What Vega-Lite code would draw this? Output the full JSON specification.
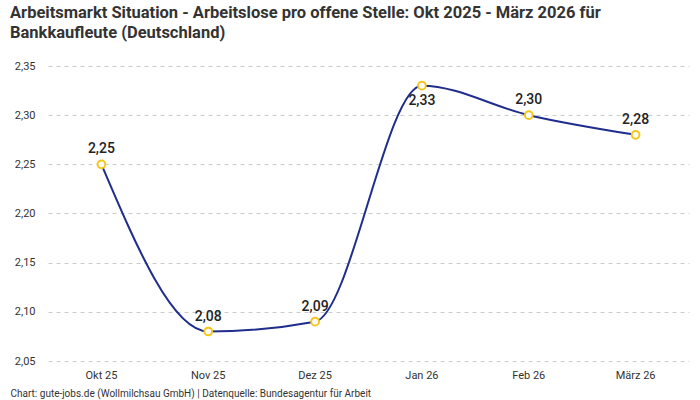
{
  "$schema": "https://vega.github.io/schema/vega-lite/v6.json",
  "autosize": {"type": "none"},
  "padding": {"left": 48, "top": 66, "right": 11, "bottom": 39},
  "width": 641,
  "height": 295,
  "title": {
    "text": ["Arbeitsmarkt Situation - Arbeitslose pro offene Stelle: Okt 2025 - März 2026 für", "Bankkaufleute (Deutschland)"],
    "anchor": "start",
    "frame": "group",
    "dx": -38,
    "offset": 19,
    "font": "Roboto",
    "fontSize": 16.5,
    "fontWeight": "bold",
    "color": "#333333",
    "lineHeight": 20
  },
  "data": {
    "values": [
      {"monat": "Okt 25", "wert": 2.25},
      {"monat": "Nov 25", "wert": 2.08},
      {"monat": "Dez 25", "wert": 2.09},
      {"monat": "Jan 26", "wert": 2.33},
      {"monat": "Feb 26", "wert": 2.30},
      {"monat": "März 26", "wert": 2.28}
    ]
  },
  "transform": [
    {"calculate": "replace(format(datum.wert, '.2f'), '.', ',')", "as": "label"}
  ],
  "encoding": {
    "x": {
      "field": "monat",
      "type": "nominal",
      "sort": null,
      "scale": {"type": "band", "paddingInner": 0, "paddingOuter": 0},
      "axis": {
        "labelAngle": 0,
        "ticks": false,
        "domain": false,
        "labelPadding": 8,
        "labelFont": "Roboto",
        "labelFontSize": 11,
        "labelColor": "#333333",
        "title": "Chart: gute-jobs.de (Wollmilchsau GmbH) | Datenquelle: Bundesagentur für Arbeit",
        "titleFont": "Roboto",
        "titleFontSize": 10,
        "titleFontWeight": "normal",
        "titleColor": "#333333",
        "titleAnchor": "start",
        "titleAlign": "left",
        "titleBaseline": "middle",
        "titleX": -38,
        "titleY": 32
      }
    },
    "y": {
      "field": "wert",
      "type": "quantitative",
      "scale": {"domain": [2.05, 2.35], "nice": false, "zero": false},
      "axis": {
        "values": [2.05, 2.1, 2.15, 2.2, 2.25, 2.3, 2.35],
        "labelExpr": "replace(format(datum.value, '.2f'), '.', ',')",
        "ticks": false,
        "domain": false,
        "labelPadding": 13,
        "labelFont": "Roboto",
        "labelFontSize": 11,
        "labelColor": "#333333",
        "gridColor": "#cccccc",
        "gridDash": [4, 4],
        "title": null
      }
    }
  },
  "layer": [
    {
      "mark": {"type": "line", "interpolate": "monotone", "color": "#1f2d8c", "strokeWidth": 2}
    },
    {
      "mark": {"type": "point", "shape": "circle", "filled": true, "fill": "#ffffff", "stroke": "#f5c518", "strokeWidth": 2, "size": 60, "opacity": 1}
    },
    {
      "transform": [{"filter": "datum.monat !== 'Jan 26'"}],
      "mark": {"type": "text", "dy": -15, "font": "Roboto", "fontSize": 14, "fontWeight": 500, "color": "#222222"},
      "encoding": {"text": {"field": "label"}}
    },
    {
      "transform": [{"filter": "datum.monat === 'Jan 26'"}],
      "mark": {"type": "text", "dy": 15, "font": "Roboto", "fontSize": 14, "fontWeight": 500, "color": "#222222"},
      "encoding": {"text": {"field": "label"}}
    }
  ],
  "config": {"view": {"stroke": null}}
}
